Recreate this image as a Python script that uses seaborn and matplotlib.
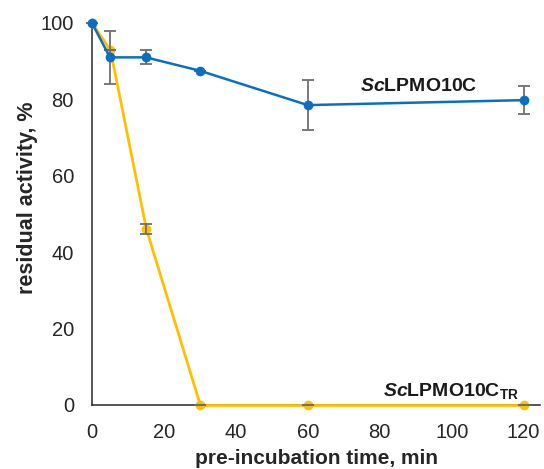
import matplotlib
matplotlib.use("Agg")
import matplotlib.pyplot as plt
import seaborn as sns
import pandas as pd

time_min = [0, 5, 15, 30, 60, 120]
wt_activity = [100, 91, 91, 87.5, 78.5, 79.8]
wt_err = [0, 7.0, 1.8, 0, 6.5, 3.7]
tr_activity = [100, 93, 46, 0, 0, 0]
tr_err = [0, 0, 1.3, 0, 0, 0]
wt_name = "ScLPMO10C"
tr_name = "ScLPMO10C_TR"

sns.set_theme(style="white")
plt.rcParams['font.family'] = ['Liberation Sans', 'DejaVu Sans']
plt.rcParams['mathtext.fontset'] = 'custom'
plt.rcParams['mathtext.bf'] = 'Liberation Sans:bold'
plt.rcParams['mathtext.it'] = 'Liberation Sans:italic'
plt.rcParams['mathtext.rm'] = 'Liberation Sans'
try:
    plt.rcParams['mathtext.bfit'] = 'Liberation Sans:bold:italic'
except Exception:
    pass

df = pd.DataFrame({
    "time": time_min * 2,
    "activity": wt_activity + tr_activity,
    "protein": [wt_name] * len(time_min) + [tr_name] * len(time_min),
})

blue = "#0A6FC2"
yellow = "#FFC000"
grey = "#6E6E6E"

fig = plt.figure(figsize=(5.44, 4.69), dpi=100)
ax = fig.add_axes([0.169, 0.1365, 0.824, 0.8145])

sns.lineplot(data=df[df.protein == tr_name], x="time", y="activity", color=yellow,
             marker="o", markersize=7, markeredgewidth=0, linewidth=2.0, ax=ax, zorder=3)
yellow_line = ax.lines[-1]
yellow_line.set_snap(True)
ax.errorbar(time_min, tr_activity, yerr=tr_err, fmt="none", ecolor=grey,
            elinewidth=1.3, capsize=4, capthick=1.3, zorder=3.5)
ax.errorbar(time_min, wt_activity, yerr=wt_err, fmt="none", ecolor=grey,
            elinewidth=1.3, capsize=4, capthick=1.3, zorder=3.5)
sns.lineplot(data=df[df.protein == wt_name], x="time", y="activity", color=blue,
             marker="o", markersize=7, markeredgewidth=0, linewidth=1.8, ax=ax, zorder=4)

ax.set_xlim(0, 124.6)
ax.set_ylim(0, 100)
ax.set_xticks([0, 20, 40, 60, 80, 100, 120])
ax.set_yticks([0, 20, 40, 60, 80, 100])
ax.tick_params(axis="both", length=0, labelsize=14.5, colors="#262626", pad=13)
for s in ["top", "right"]:
    ax.spines[s].set_visible(False)
for s in ["left", "bottom"]:
    ax.spines[s].set_color("#262626")
    ax.spines[s].set_linewidth(1.1)
    ax.spines[s].set_zorder(2)
ax.set_xlabel("pre-incubation time, min", fontsize=15, fontweight="bold", labelpad=5)
ax.set_ylabel("residual activity, %", fontsize=15.5, fontweight="bold")
ax.yaxis.set_label_coords(-0.12, 0.542)
for l in ax.lines:
    l.set_clip_on(False)

ax.text(90.8, 82.3, r"$\mathbfit{Sc}$LPMO10C", fontsize=14, fontweight="bold",
        ha="center", va="baseline", color="#1a1a1a")
ax.text(80.8, 2.4, r"$\mathbfit{Sc}$LPMO10C$_{\mathbf{TR}}$", fontsize=14, fontweight="bold",
        ha="left", va="baseline", color="#1a1a1a")

fig.savefig("out.png", dpi=100)
